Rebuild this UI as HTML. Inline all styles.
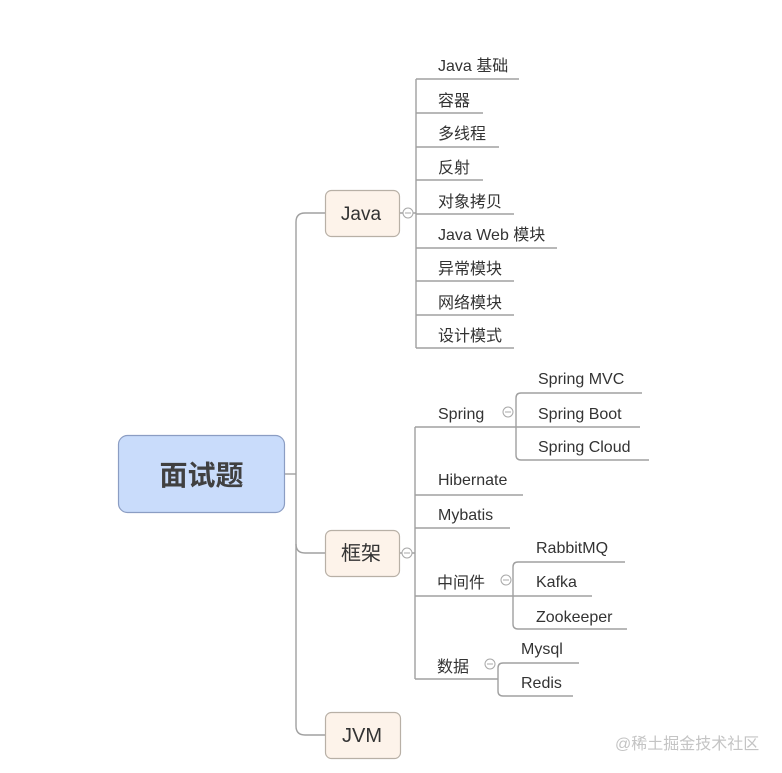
<!DOCTYPE html>
<html><head><meta charset="utf-8"><style>
html,body{margin:0;padding:0;background:#fff;}
svg{display:block;}
text{font-family:"Liberation Sans","Noto Sans CJK SC",sans-serif;fill:#333;}
</style></head><body>
<svg width="782" height="773" viewBox="0 0 782 773" xmlns="http://www.w3.org/2000/svg">
<g fill="none" stroke="#a0a0a0" stroke-width="1.4">
<path d="M285,474 H296"/>
<path d="M325,213 H305 Q296,213 296,222 V726 Q296,735 305,735 H325"/>
<path d="M296,544 Q296,553 305,553 H325"/>
<path d="M399,213 H403 M413,213 H416"/>
<path d="M416,79 V348"/>
<path d="M416,79 H519 M416,113 H483 M416,147 H499 M416,180 H483 M416,214 H514 M416,248 H557 M416,281 H514 M416,315 H514 M416,348 H514"/>
<path d="M399,553 H402 M412,553 H415"/>
<path d="M415,427 V679"/>
<path d="M415,427 H516 M415,495 H523 M415,528 H510 M415,596 H513 M415,679 H498"/>
<path d="M642,393 H521 Q516,393 516,398 V455 Q516,460 521,460 H649"/>
<path d="M516,427 H640"/>
<path d="M625,562 H518 Q513,562 513,567 V624 Q513,629 518,629 H627"/>
<path d="M513,596 H592"/>
<path d="M579,663 H503 Q498,663 498,668 V691 Q498,696 503,696 H573"/>
</g>
<g fill="#fff" stroke="#a8a8a8" stroke-width="1">
<circle cx="408" cy="213" r="5"/>
<circle cx="407" cy="553" r="5"/>
<circle cx="508" cy="412" r="5"/>
<circle cx="506" cy="580" r="5"/>
<circle cx="490" cy="664" r="5"/>
</g>
<g stroke="#a8a8a8" stroke-width="1">
<path d="M405,213 H411 M404,553 H410 M505,412 H511 M503,580 H509 M487,664 H493"/>
</g>
<rect x="118.5" y="435.5" width="166" height="77" rx="9" fill="#c9dcfb" stroke="#8b9dc3" stroke-width="1.2"/>
<text x="201.5" y="485" font-size="28" font-weight="bold" text-anchor="middle" style="fill:#404040">面试题</text>
<rect x="325.5" y="190.5" width="74" height="46" rx="6" fill="#fdf3ea" stroke="#b8b0a6" stroke-width="1.2"/>
<text x="361" y="220" font-size="19" text-anchor="middle">Java</text>
<rect x="325.5" y="530.5" width="74" height="46" rx="6" fill="#fdf3ea" stroke="#b8b0a6" stroke-width="1.2"/>
<text x="361" y="560" font-size="20" text-anchor="middle">框架</text>
<rect x="325.5" y="712.5" width="75" height="46" rx="6" fill="#fdf3ea" stroke="#b8b0a6" stroke-width="1.2"/>
<text x="362" y="742" font-size="20" text-anchor="middle">JVM</text>
<g font-size="16">
<text x="438" y="71">Java 基础</text>
<text x="438" y="106">容器</text>
<text x="438" y="139">多线程</text>
<text x="438" y="173">反射</text>
<text x="438" y="207">对象拷贝</text>
<text x="438" y="240">Java Web 模块</text>
<text x="438" y="274">异常模块</text>
<text x="438" y="308">网络模块</text>
<text x="438" y="341">设计模式</text>
<text x="438" y="419">Spring</text>
<text x="438" y="485">Hibernate</text>
<text x="438" y="520">Mybatis</text>
<text x="437" y="588">中间件</text>
<text x="437" y="672">数据</text>
<text x="538" y="384">Spring MVC</text>
<text x="538" y="419">Spring Boot</text>
<text x="538" y="452">Spring Cloud</text>
<text x="536" y="553">RabbitMQ</text>
<text x="536" y="587">Kafka</text>
<text x="536" y="622">Zookeeper</text>
<text x="521" y="654">Mysql</text>
<text x="521" y="688">Redis</text>
</g>
<text x="615" y="749" font-size="16" style="fill:#c4c4c4">@稀土掘金技术社区</text>
</svg>
</body></html>
